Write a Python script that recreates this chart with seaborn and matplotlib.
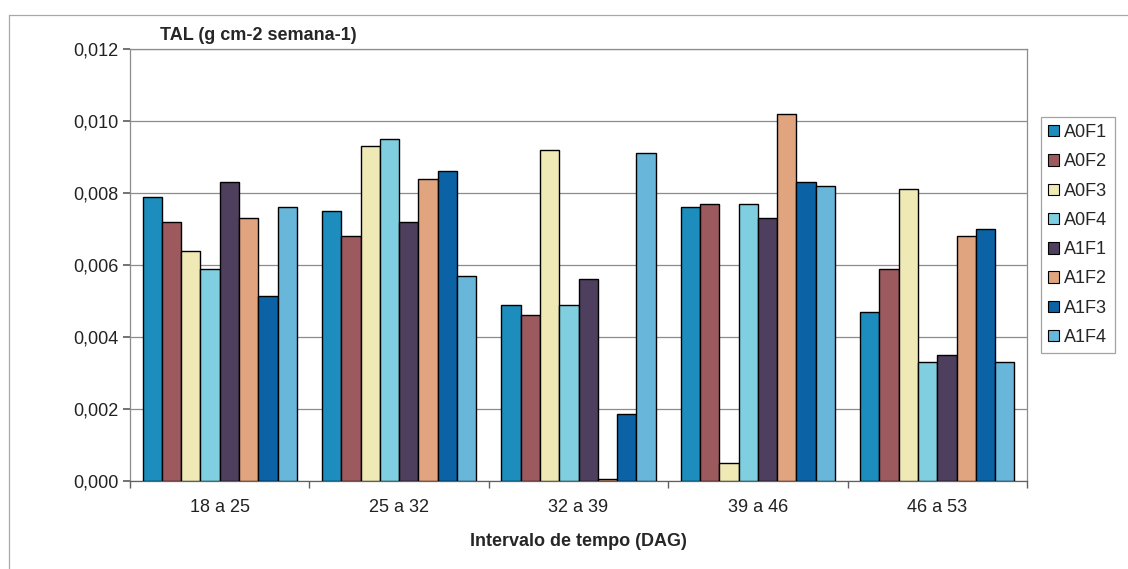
import pandas as pd
import matplotlib.pyplot as plt
import seaborn as sns
from matplotlib.ticker import FuncFormatter, MultipleLocator
from matplotlib.lines import Line2D

# intervals (x categories) and treatments (hue)
intervals = ["18 a 25", "25 a 32", "32 a 39", "39 a 46", "46 a 53"]
treatments = ["A0F1", "A0F2", "A0F3", "A0F4", "A1F1", "A1F2", "A1F3", "A1F4"]

a0f1 = [0.0079, 0.0075, 0.0049, 0.0076, 0.0047]
a0f2 = [0.0072, 0.0068, 0.0046, 0.0077, 0.0059]
a0f3 = [0.0064, 0.0093, 0.0092, 0.0005, 0.0081]
a0f4 = [0.0059, 0.0095, 0.0049, 0.0077, 0.0033]
a1f1 = [0.0083, 0.0072, 0.0056, 0.0073, 0.0035]
a1f2 = [0.0073, 0.0084, 0.00005, 0.0102, 0.0068]
a1f3 = [0.00515, 0.0086, 0.00185, 0.0083, 0.0070]
a1f4 = [0.0076, 0.0057, 0.0091, 0.0082, 0.0033]

colors = ["#1c8dbd", "#9c5a5f", "#efe9b6", "#7fcfe0",
          "#4d3f5d", "#e0a47e", "#0b63a6", "#68b6da"]

series = [a0f1, a0f2, a0f3, a0f4, a1f1, a1f2, a1f3, a1f4]
rows = []
for name, vals in zip(treatments, series):
    for iv, v in zip(intervals, vals):
        rows.append({"Intervalo": iv, "Tratamento": name, "TAL": v})
df = pd.DataFrame(rows)

sns.set_theme(style="white")
plt.rcParams["font.family"] = ["Liberation Sans", "DejaVu Sans"]

fig = plt.figure(figsize=(11.28, 5.69), dpi=100)
ax = fig.add_axes([130 / 1128, 88 / 569, 897 / 1128, 432 / 569])

sns.barplot(data=df, x="Intervalo", y="TAL", hue="Tratamento",
            hue_order=treatments, order=intervals, palette=colors,
            width=0.86, edgecolor="black", linewidth=1.0, saturation=1,
            ax=ax, zorder=3)

ax.set_ylim(0, 0.012)
ax.set_xlim(-0.5, 4.5)
ax.yaxis.set_major_locator(MultipleLocator(0.002))
ax.yaxis.set_major_formatter(FuncFormatter(lambda v, p: f"{v:.3f}".replace(".", ",")))
ax.grid(axis="y", color="#8c8c8c", linewidth=0.9, zorder=0)
ax.set_axisbelow(True)

for s in ax.spines.values():
    s.set_color("#8c8c8c")
    s.set_linewidth(0.9)
ax.spines["bottom"].set_color("#606060")

# group separators on x axis
ax.set_xticks([-0.5, 0.5, 1.5, 2.5, 3.5, 4.5], minor=True)
ax.tick_params(axis="x", which="minor", length=5, color="#606060", direction="out", bottom=True)
ax.tick_params(axis="x", which="major", length=0, labelsize=13, pad=13, colors="#222222")
ax.tick_params(axis="y", which="major", length=5, color="#606060", direction="out",
               left=True, labelsize=13, colors="#222222")

ax.set_xlabel("Intervalo de tempo (DAG)", fontsize=13, fontweight="bold", labelpad=12)
ax.set_ylabel("")
ax.text(0.033, 1.012, "TAL (g cm-2 semana-1)", transform=ax.transAxes,
        fontsize=13, fontweight="bold", ha="left", va="bottom")

leg = ax.legend(loc="upper left", bbox_to_anchor=(1.0156, 0.843), frameon=True,
                fontsize=13, handlelength=0.6, handleheight=0.6,
                handletextpad=0.3, labelspacing=0.68, borderpad=0.4,
                borderaxespad=0, fancybox=False, title=None)
leg.get_frame().set_edgecolor("#8c8c8c")
leg.get_frame().set_linewidth(0.9)
for h in leg.legend_handles:
    h.set_edgecolor("black")
    h.set_linewidth(0.8)

# outer chart border (top and left edges visible in the scan)
fig.add_artist(Line2D([9 / 1128, 1.0], [1 - 15 / 569, 1 - 15 / 569],
                      transform=fig.transFigure, color="#a8a8a8", linewidth=0.9))
fig.add_artist(Line2D([9 / 1128, 9 / 1128], [0.0, 1 - 15 / 569],
                      transform=fig.transFigure, color="#a8a8a8", linewidth=0.9))

fig.savefig("out.png", dpi=100)
